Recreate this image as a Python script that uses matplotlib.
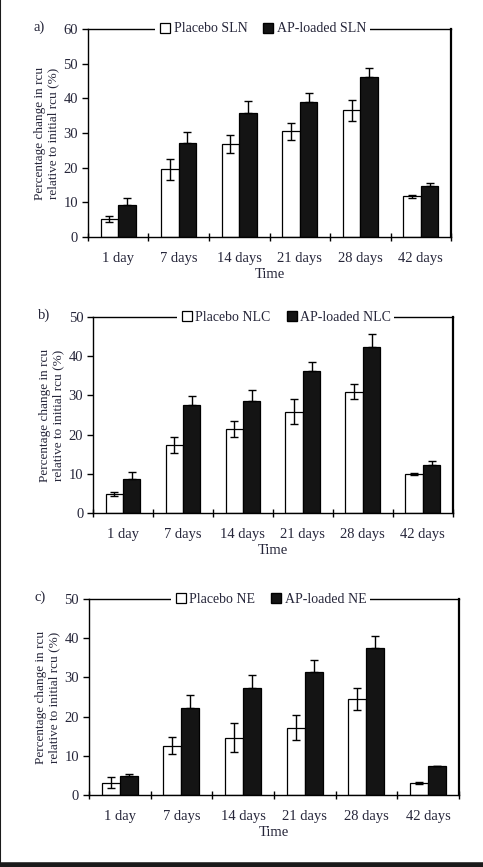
import numpy as np
import matplotlib.pyplot as plt
from matplotlib.lines import Line2D

plt.rcParams.update({'font.size': 10.5, 'font.family': ['Liberation Serif', 'DejaVu Serif']})
text_color = '#26263a'

days = ['1 day', '7 days', '14 days', '21 days', '28 days', '42 days']

# a) SLN
placebo_sln = [5.2, 19.5, 26.8, 30.5, 36.6, 11.7]
placebo_sln_err = [1.0, 3.0, 2.6, 2.5, 3.0, 0.4]
ap_sln = [9.1, 27.2, 35.7, 38.9, 46.1, 14.8]
ap_sln_err = [2.2, 3.0, 3.5, 2.5, 2.6, 0.7]
# b) NLC
placebo_nlc = [4.9, 17.3, 21.4, 25.9, 31.0, 9.9]
placebo_nlc_err = [0.5, 2.0, 2.0, 3.2, 1.9, 0.3]
ap_nlc = [8.7, 27.6, 28.6, 36.2, 42.3, 12.2]
ap_nlc_err = [1.8, 2.2, 2.7, 2.3, 3.4, 1.1]
# c) NE
placebo_ne = [3.1, 12.6, 14.6, 17.2, 24.6, 3.1]
placebo_ne_err = [1.4, 2.2, 3.7, 3.1, 2.8, 0.2]
ap_ne = [4.8, 22.3, 27.2, 31.5, 37.6, 7.3]
ap_ne_err = [0.6, 3.3, 3.4, 3.0, 3.0, 0.0]

# tag, name, values, ymax, axes rect, legend x anchor
panels = [
    ('a)', 'SLN', placebo_sln, placebo_sln_err, ap_sln, ap_sln_err, 60, [0.182, 0.7266, 0.752, 0.240], 0.48),
    ('b)', 'NLC', placebo_nlc, placebo_nlc_err, ap_nlc, ap_nlc_err, 50, [0.1925, 0.4083, 0.745, 0.226], 0.535),
    ('c)', 'NE', placebo_ne, placebo_ne_err, ap_ne, ap_ne_err, 50, [0.184, 0.0830, 0.766, 0.226], 0.49),
]

fig = plt.figure(figsize=(4.83, 8.67), dpi=100)
x = np.arange(len(days))
w = 0.29
for tag, name, pv, pe, av, ae, ymax, pos, lx in panels:
    ax = fig.add_axes(pos)
    ax.bar(x - w / 2, pv, w, color='white', edgecolor='black', linewidth=0.9, zorder=2)
    ax.bar(x + w / 2, av, w, color='#141414', edgecolor='black', linewidth=0.9, zorder=2)
    ax.errorbar(x - w / 2, pv, yerr=pe, fmt='none', ecolor='black', elinewidth=1.0, capsize=3, capthick=1.0, zorder=3)
    ax.errorbar(x + w / 2, av, yerr=[np.zeros(len(ae)), ae], fmt='none', ecolor='black',
                elinewidth=1.0, capsize=3, capthick=1.0, zorder=3)
    ax.set_xlim(-0.5, len(days) - 0.5)
    ax.set_ylim(0, ymax)
    ax.set_yticks(np.arange(0, ymax + 1, 10))
    ax.set_xticks(x)
    ax.set_xticklabels(days, color=text_color)
    ax.set_xticks(np.arange(-0.5, len(days)), minor=True)
    ax.tick_params(axis='x', which='major', length=0, pad=11)
    ax.tick_params(axis='x', which='minor', direction='inout', length=6, width=1.0)
    ax.tick_params(axis='y', direction='out', length=4, width=1.0, labelcolor=text_color, pad=3)
    for s in ['left', 'bottom', 'top']:
        ax.spines[s].set_linewidth(1.0)
    ax.spines['right'].set_linewidth(1.6)
    ax.set_xlabel('Time', color=text_color, labelpad=2)
    ax.set_ylabel('Percentage change in rcu\nrelative to initial rcu (%)', fontsize=9.5,
                  color=text_color, linespacing=1.2, labelpad=3)
    handles = [Line2D([], [], marker='s', linestyle='none', markersize=6.5, markerfacecolor='white',
                      markeredgecolor='black', markeredgewidth=0.9),
               Line2D([], [], marker='s', linestyle='none', markersize=6.5, markerfacecolor='#141414',
                      markeredgecolor='black')]
    leg = ax.legend(handles, ['Placebo ' + name, 'AP-loaded ' + name], loc='center', bbox_to_anchor=(lx, 1.0),
                    ncol=2, frameon=True, fancybox=False, edgecolor='none', facecolor='white', framealpha=1,
                    handletextpad=0.1, columnspacing=1.0, borderpad=0.25, handlelength=1.0, fontsize=10)
    for t in leg.get_texts():
        t.set_color(text_color)
    fig.text(pos[0] - 0.113, pos[1] + pos[3] + 0.002, tag, fontsize=10.5, color=text_color, va='center')

# page border: left line and bottom band
fig.add_artist(Line2D([0.001, 0.001], [0.0, 1.0], color='#1a1a1a', linewidth=1.5, transform=fig.transFigure))
fig.add_artist(Line2D([0.0, 1.0], [0.002, 0.002], color='#1a1a1a', linewidth=4, transform=fig.transFigure))

fig.savefig('out.png', dpi=100)
